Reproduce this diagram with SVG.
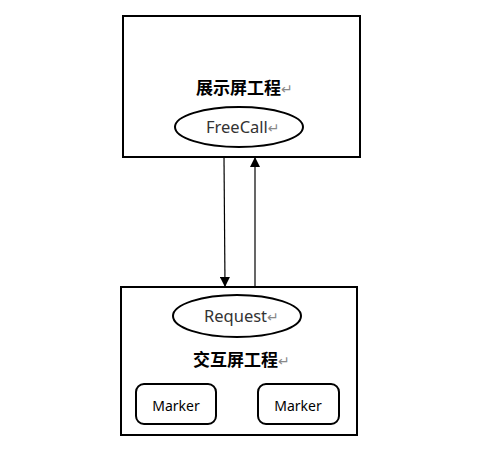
<svg xmlns="http://www.w3.org/2000/svg" width="478" height="451" viewBox="0 0 478 451">
  <style>
    .box { fill: #fff; stroke: #000; stroke-width: 2; }
    .oval { fill: #fff; stroke: #000; stroke-width: 2; }
    .mk { fill: #fff; stroke: #000; stroke-width: 2; }
    .title { font-family: "Noto Sans CJK SC", "Noto Sans", sans-serif; font-size: 17px; font-weight: bold; fill: #000; }
    .lbl { font-family: "Noto Sans", "Noto Sans CJK SC", sans-serif; font-size: 16.5px; fill: #333; }
    .mtxt { font-family: "Noto Sans", "Noto Sans CJK SC", sans-serif; font-size: 14px; fill: #000; }
    .ret { fill: #888; font-weight: normal; font-family: "DejaVu Sans", sans-serif; }
    .link { stroke: #000; stroke-width: 1.2; fill: none; }
  </style>
  <defs>
    <marker id="head" markerWidth="10" markerHeight="10" refX="9" refY="5" orient="auto" markerUnits="userSpaceOnUse">
      <path d="M0,0 L10,5 L0,10 Z" fill="#000"/>
    </marker>
  </defs>

  <g id="display-project">
    <rect class="box" x="123" y="16" width="237" height="141"/>
    <text class="title" x="196" y="94">展示屏工程<tspan class="ret" font-size="14">↵</tspan></text>
  </g>
  <g id="freecall">
    <ellipse class="oval" cx="239" cy="127" rx="64" ry="20"/>
    <text class="lbl" x="206" y="133">FreeCall<tspan class="ret" font-size="14">↵</tspan></text>
  </g>

  <g id="interact-project">
    <rect class="box" x="121" y="287" width="236" height="148"/>
    <text class="title" x="193" y="366">交互屏工程<tspan class="ret" font-size="14">↵</tspan></text>
  </g>
  <g id="request">
    <ellipse class="oval" cx="237" cy="316" rx="64" ry="21"/>
    <text class="lbl" x="204" y="322">Request<tspan class="ret" font-size="14">↵</tspan></text>
  </g>
  <g id="marker-1">
    <rect class="mk" x="136" y="384" width="80" height="40" rx="8"/>
    <text class="mtxt" x="176" y="411" text-anchor="middle">Marker</text>
  </g>
  <g id="marker-2">
    <rect class="mk" x="258" y="384" width="81" height="40" rx="8"/>
    <text class="mtxt" x="298" y="411" text-anchor="middle">Marker</text>
  </g>

  <g id="connectors">
    <line class="link" x1="224" y1="158" x2="225" y2="286" marker-end="url(#head)" stroke="#333"/>
    <line class="link" x1="255" y1="286" x2="255" y2="158" marker-end="url(#head)"/>
  </g>
</svg>
